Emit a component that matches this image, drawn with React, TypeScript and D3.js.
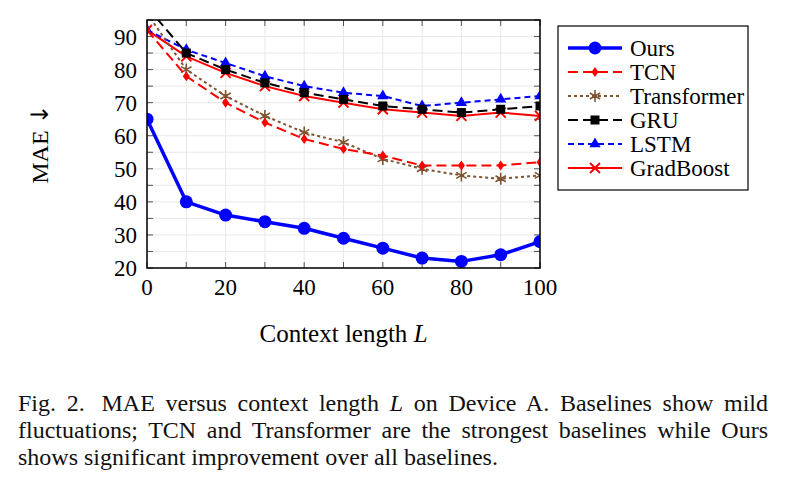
import React, { useLayoutEffect, useRef } from 'react';
import * as d3 from 'd3';

// context lengths on the x axis
const contextLengths = [0, 10, 20, 30, 40, 50, 60, 70, 80, 90, 100];

// MAE per method
const oursMAE = [65, 40, 36, 34, 32, 29, 26, 23, 22, 24, 28];
const tcnMAE = [92, 78, 70, 64, 59, 56, 54, 51, 51, 51, 52];
const transformerMAE = [97, 80, 72, 66, 61, 58, 53, 50, 48, 47, 48];
const gruMAE = [99, 85, 80, 76, 73, 71, 69, 68, 67, 68, 69];
const lstmMAE = [92, 86, 82, 78, 75, 73, 72, 69, 70, 71, 72];
const gradBoostMAE = [92, 84, 79, 75, 72, 70, 68, 67, 66, 67, 66];

const xTickLabels = [0, 20, 40, 60, 80, 100];
const yTickLabels = [20, 30, 40, 50, 60, 70, 80, 90];

type Series = {
  name: string;
  values: number[];
  color: string;
  width: number;
  dash?: string;
  marker: 'circle' | 'diamond' | 'asterisk' | 'square' | 'triangle' | 'cross';
};

const series: Series[] = [
  { name: 'Ours', values: oursMAE, color: '#0000ff', width: 3.5, marker: 'circle' },
  { name: 'TCN', values: tcnMAE, color: '#ff0000', width: 2, dash: '10 5', marker: 'diamond' },
  { name: 'Transformer', values: transformerMAE, color: '#7d5532', width: 2, dash: '3 3', marker: 'asterisk' },
  { name: 'GRU', values: gruMAE, color: '#000000', width: 2, dash: '10 5', marker: 'square' },
  { name: 'LSTM', values: lstmMAE, color: '#0000ff', width: 2, dash: '6 4', marker: 'triangle' },
  { name: 'GradBoost', values: gradBoostMAE, color: '#ff0000', width: 2, marker: 'cross' },
];

const FONT = '"Liberation Serif", "Times New Roman", serif';

const left = 147;
const right = 540;
const top = 20;
const bottom = 268;

const x = d3.scaleLinear().domain([0, 100]).range([left, right]);
const y = d3.scaleLinear().domain([20, 95]).range([bottom, top]);

function Marker({ s, cx, cy }: { s: Series; cx: number; cy: number }) {
  const c = s.color;
  switch (s.marker) {
    case 'circle':
      return <circle cx={cx} cy={cy} r={6.5} fill={c} />;
    case 'diamond':
      return <path d={`M${cx},${cy - 5}L${cx + 3.5},${cy}L${cx},${cy + 5}L${cx - 3.5},${cy}Z`} fill={c} />;
    case 'square':
      return <rect x={cx - 4.5} y={cy - 4.5} width={9} height={9} fill={c} />;
    case 'triangle':
      return <path d={d3.symbol(d3.symbolTriangle, 55)() || ''} transform={`translate(${cx},${cy})`} fill={c} />;
    case 'cross':
      return (
        <path d={`M${cx - 5},${cy - 5}L${cx + 5},${cy + 5}M${cx - 5},${cy + 5}L${cx + 5},${cy - 5}`}
          stroke={c} strokeWidth={2} fill="none" />
      );
    case 'asterisk': {
      const r = 6;
      const d = d3.range(6).map((i) => {
        const a = (i * Math.PI) / 3 + Math.PI / 2;
        return `M${cx},${cy}L${cx + r * Math.cos(a)},${cy - r * Math.sin(a)}`;
      }).join('');
      return <path d={d} stroke={c} strokeWidth={1.6} fill="none" />;
    }
  }
  return null;
}

export default function App() {
  const capRefs = useRef<(SVGTextElement | null)[]>([]);

  // justify the first two caption lines by spreading the word gaps
  useLayoutEffect(() => {
    capRefs.current.forEach((el, i) => {
      if (!el || i > 1) return;
      const extra = i === 0 ? 6 : 0; // the dx after "Fig. 2."
      const spaces = (el.textContent || '').split(' ').length - 1;
      const len = el.getComputedTextLength();
      el.setAttribute('word-spacing', String((750 - extra - len) / spaces));
    });
  }, []);

  const line = d3.line<number>()
    .x((_, i) => x(contextLengths[i]))
    .y((v) => y(v));

  const xMinor = d3.range(0, 101, 10);
  const yMinor = d3.range(20, 96, 5);

  const legendRows = [48, 72, 96, 120, 144, 168];

  return (
    <svg width={785} height={485} style={{ position: 'absolute', left: 0, top: 0, background: '#fff' }}>
      <defs>
        <clipPath id="plot-clip">
          <rect x={left} y={top} width={right - left} height={bottom - top} />
        </clipPath>
      </defs>

      {/* grid */}
      <g stroke="#e8e8e8" strokeWidth={1}>
        {xMinor.map((v) => <line key={'gx' + v} x1={x(v)} x2={x(v)} y1={top} y2={bottom} />)}
        {yMinor.map((v) => <line key={'gy' + v} x1={left} x2={right} y1={y(v)} y2={y(v)} />)}
      </g>

      {/* ticks on all four sides, pointing inward */}
      <g stroke="#555" strokeWidth={1}>
        {xMinor.map((v) => (
          <g key={'tx' + v}>
            <line x1={x(v)} x2={x(v)} y1={bottom} y2={bottom - 6} />
            <line x1={x(v)} x2={x(v)} y1={top} y2={top + 6} />
          </g>
        ))}
        {yMinor.map((v) => (
          <g key={'ty' + v}>
            <line x1={left} x2={left + 6} y1={y(v)} y2={y(v)} />
            <line x1={right} x2={right - 6} y1={y(v)} y2={y(v)} />
          </g>
        ))}
      </g>

      {/* series */}
      <g clipPath="url(#plot-clip)">
        {series.slice().reverse().map((s) => (
          <g key={s.name}>
            <path d={line(s.values) || ''} fill="none" stroke={s.color} strokeWidth={s.width}
              strokeDasharray={s.dash} strokeLinejoin="round" />
            {s.values.map((v, i) => (
              <Marker key={i} s={s} cx={x(contextLengths[i])} cy={y(v)} />
            ))}
          </g>
        ))}
      </g>

      <rect x={left} y={top} width={right - left} height={bottom - top} fill="none" stroke="#000" strokeWidth={1.5} />

      {/* tick labels */}
      <g fontFamily={FONT} fontSize={23} fill="#000">
        {xTickLabels.map((v) => (
          <text key={'xl' + v} x={x(v)} y={bottom + 27} textAnchor="middle">{v}</text>
        ))}
        {yTickLabels.map((v) => (
          <text key={'yl' + v} x={left - 10} y={y(v) + 8} textAnchor="end">{v}</text>
        ))}
      </g>

      {/* axis titles */}
      <text fontFamily={FONT} fontSize={24} textAnchor="middle"
        transform={`translate(48,${(top + bottom) / 2}) rotate(-90)`}>
        MAE <tspan fontFamily="DejaVu Sans" fontSize={24}>↓</tspan>
      </text>
      <text fontFamily={FONT} fontSize={25} x={(left + right) / 2} y={342} textAnchor="middle">
        Context length <tspan fontStyle="italic">L</tspan>
      </text>

      {/* legend */}
      <rect x={558} y={26} width={190} height={164} fill="#fff" stroke="#000" strokeWidth={1.2} />
      {series.map((s, i) => {
        const ly = legendRows[i];
        return (
          <g key={'lg' + s.name}>
            <line x1={568} x2={622} y1={ly} y2={ly} stroke={s.color} strokeWidth={s.width}
              strokeDasharray={s.dash} />
            <Marker s={s} cx={595} cy={ly} />
            <text x={630} y={ly + 7.5} fontFamily={FONT} fontSize={23}>{s.name}</text>
          </g>
        );
      })}

      {/* caption */}
      <g fontFamily={FONT} fontSize={24} fill="#111">
        <text ref={(el) => { capRefs.current[0] = el; }} x={18} y={411}>
          Fig. 2.<tspan dx={6}> MAE versus context length </tspan><tspan fontStyle="italic">L</tspan> on Device A. Baselines show mild
        </text>
        <text ref={(el) => { capRefs.current[1] = el; }} x={18} y={438}>
          fluctuations; TCN and Transformer are the strongest baselines while Ours
        </text>
        <text ref={(el) => { capRefs.current[2] = el; }} x={18} y={465}>
          shows significant improvement over all baselines.
        </text>
      </g>
    </svg>
  );
}
